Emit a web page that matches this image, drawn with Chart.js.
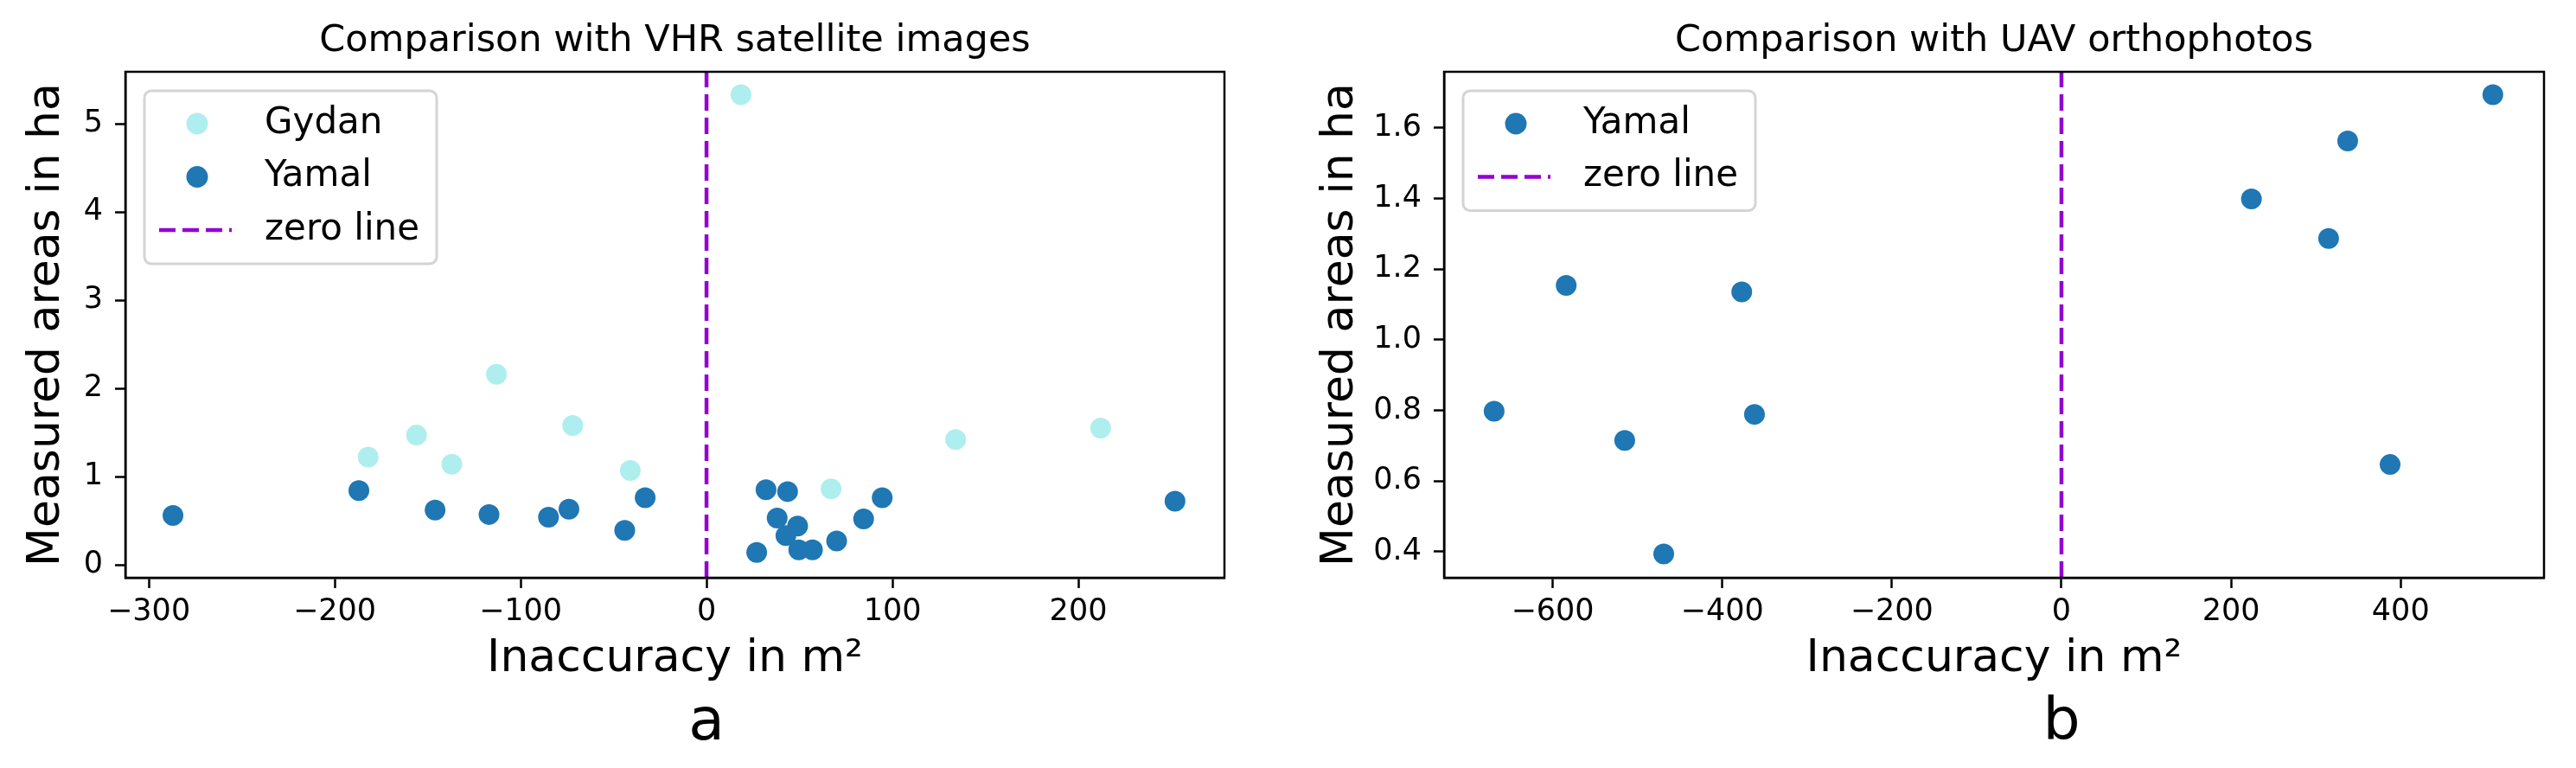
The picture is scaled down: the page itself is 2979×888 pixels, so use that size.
<!DOCTYPE html>
<html>
<head>
<meta charset="utf-8">
<title>Inaccuracy vs measured areas</title>
<script src="https://cdn.jsdelivr.net/npm/chart.js@4.4.0/dist/chart.umd.min.js"></script>
<style>
  body { margin: 0; background: #fff; }
  #wrap { position: relative; width: 2979px; height: 888px; }
  canvas { position: absolute; top: 0; }
</style>
</head>
<body>
<div id="wrap">
  <canvas id="chartA" width="1460" height="888" style="left:0"></canvas>
  <canvas id="chartB" width="1519" height="888" style="left:1460px"></canvas>
</div>
<script>
// panel a - VHR satellite images
const gydanX = [18.5, -113, -156, -182, -137, -72, -41, 67, 134, 212];
const gydanY = [5.33, 2.16, 1.47, 1.22, 1.14, 1.58, 1.07, 0.86, 1.42, 1.55];
const yamalAX = [-287, -187, -146, -117, -85, -74, -44, -33, 27, 32, 43.6, 38, 42.7, 49, 49.6, 57, 70, 84.5, 94.5, 252];
const yamalAY = [0.56, 0.84, 0.62, 0.57, 0.54, 0.63, 0.39, 0.76, 0.14, 0.85, 0.83, 0.53, 0.33, 0.44, 0.17, 0.17, 0.27, 0.52, 0.76, 0.72];
const xTicksA = [-300, -200, -100, 0, 100, 200];
const yTicksA = [0, 1, 2, 3, 4, 5];
const xRangeA = [-312.6, 278.6];
const yRangeA = [-0.147, 5.59];

// panel b - UAV orthophotos
const yamalBX = [-669, -584, -515, -469, -377, -362, 224, 315, 337.5, 387.5, 508.7];
const yamalBY = [0.798, 1.154, 0.715, 0.394, 1.136, 0.789, 1.399, 1.287, 1.563, 0.647, 1.694];
const xTicksB = [-600, -400, -200, 0, 200, 400];
const yTicksB = [0.4, 0.6, 0.8, 1.0, 1.2, 1.4, 1.6];
const xRangeB = [-728, 569];
const yRangeB = [0.3265, 1.759];

const FONT = "'DejaVu Sans', sans-serif";
const GYDAN = "#afeeee";
const YAMAL = "#1f77b4";
const ZERO = "#9400d3";

const toPoints = (xs, ys) => xs.map((x, i) => ({ x: x, y: ys[i] }));
const minus = (s) => String(s).replace("-", "\u2212");

// frame + legend inside plot + panel letter
const extras = {
  id: "extras",
  afterDraw(chart, args, opts) {
    const ctx = chart.ctx;
    const area = chart.chartArea;
    ctx.save();
    ctx.strokeStyle = "#000";
    ctx.lineWidth = 2.5;
    ctx.strokeRect(area.left, area.top, area.right - area.left, area.bottom - area.top);

    // legend
    const items = chart.data.datasets;
    const lx = area.left + 22;
    const ly = area.top + 22;
    const w = 338;
    const h = items.length * 61.5 + 15.5;
    ctx.beginPath();
    ctx.roundRect(lx, ly, w, h, 8);
    ctx.fillStyle = "rgba(255,255,255,0.8)";
    ctx.fill();
    ctx.strokeStyle = "#d4d4d4";
    ctx.lineWidth = 3;
    ctx.stroke();
    items.forEach((ds, i) => {
      const cy = ly + 38 + i * 61.5;
      if (ds.showLine) {
        ctx.beginPath();
        ctx.setLineDash([19, 8]);
        ctx.strokeStyle = ds.borderColor;
        ctx.lineWidth = ds.borderWidth;
        ctx.moveTo(lx + 17, cy);
        ctx.lineTo(lx + 101, cy);
        ctx.stroke();
        ctx.setLineDash([]);
      } else {
        ctx.beginPath();
        ctx.arc(lx + 61, cy, 12.5, 0, Math.PI * 2);
        ctx.fillStyle = ds.backgroundColor;
        ctx.fill();
      }
      ctx.fillStyle = "#000";
      ctx.font = "42px " + FONT;
      ctx.textAlign = "left";
      ctx.textBaseline = "middle";
      ctx.fillText(ds.label, lx + 139, cy);
    });

    // panel letter under the zero of the x axis
    ctx.font = "68px " + FONT;
    ctx.textAlign = "center";
    ctx.textBaseline = "alphabetic";
    ctx.fillText(opts.letter, chart.scales.x.getPixelForValue(0), 855);
    ctx.restore();
  }
};

function makePanel(canvasId, cfg) {
  const datasets = cfg.series.map((s, i) => ({
    label: s.label,
    data: toPoints(s.xs, s.ys),
    backgroundColor: s.color,
    borderWidth: 0,
    pointRadius: 12,
    pointHoverRadius: 12,
    order: cfg.series.length - i
  }));
  datasets.push({
    label: "zero line",
    data: [{ x: 0, y: cfg.yRange[0] }, { x: 0, y: cfg.yRange[1] }],
    showLine: true,
    borderColor: ZERO,
    borderWidth: 4.5,
    borderDash: [19, 8],
    pointRadius: 0,
    order: 0
  });

  return new Chart(document.getElementById(canvasId), {
    type: "scatter",
    data: { datasets: datasets },
    plugins: [extras],
    options: {
      responsive: false,
      animation: false,
      devicePixelRatio: 1,
      layout: { padding: { left: 0, right: cfg.padRight, top: 0, bottom: 0 } },
      plugins: {
        legend: { display: false },
        tooltip: { enabled: false },
        title: {
          display: true,
          text: cfg.title,
          fullSize: false,
          color: "#000",
          font: { family: FONT, size: 43, weight: "normal", lineHeight: 1 },
          padding: { top: 26, bottom: 14 }
        },
        extras: { letter: cfg.letter }
      },
      scales: {
        x: {
          type: "linear",
          min: cfg.xRange[0],
          max: cfg.xRange[1],
          afterFit: (s) => { s.height = 220; },
          afterBuildTicks: (s) => { s.ticks = cfg.xTicks.map((v) => ({ value: v })); },
          grid: { drawOnChartArea: false, drawTicks: true, tickLength: 12, tickWidth: 2.5, tickColor: "#000" },
          border: { display: true, color: "#000", width: 2.5 },
          ticks: {
            color: "#000",
            font: { family: FONT, size: 35 },
            padding: 7,
            maxRotation: 0,
            autoSkip: false,
            callback: (v) => minus(v)
          },
          title: {
            display: true,
            text: "Inaccuracy in m\u00b2",
            color: "#000",
            font: { family: FONT, size: 52, lineHeight: 1.2 },
            padding: { top: 0, bottom: 94 }
          }
        },
        y: {
          type: "linear",
          min: cfg.yRange[0],
          max: cfg.yRange[1],
          afterFit: (s) => { s.width = cfg.yWidth; },
          afterBuildTicks: (s) => { s.ticks = cfg.yTicks.map((v) => ({ value: v })); },
          grid: { drawOnChartArea: false, drawTicks: true, tickLength: 12, tickWidth: 2.5, tickColor: "#000" },
          border: { display: true, color: "#000", width: 2.5 },
          ticks: {
            color: "#000",
            font: { family: FONT, size: 35 },
            padding: 14,
            autoSkip: false,
            callback: cfg.yFormat
          },
          title: {
            display: true,
            text: "Measured areas in ha",
            color: "#000",
            font: { family: FONT, size: 52, lineHeight: 1.2 },
            padding: { top: cfg.yTitlePad, bottom: 0 }
          }
        }
      }
    }
  });
}

makePanel("chartA", {
  title: "Comparison with VHR satellite images",
  letter: "a",
  series: [
    { label: "Gydan", xs: gydanX, ys: gydanY, color: GYDAN },
    { label: "Yamal", xs: yamalAX, ys: yamalAY, color: YAMAL }
  ],
  xTicks: xTicksA,
  yTicks: yTicksA,
  xRange: xRangeA,
  yRange: yRangeA,
  yFormat: (v) => String(v),
  yWidth: 145,
  yTitlePad: 23,
  padRight: 44
});

makePanel("chartB", {
  title: "Comparison with UAV orthophotos",
  letter: "b",
  series: [
    { label: "Yamal", xs: yamalBX, ys: yamalBY, color: YAMAL }
  ],
  xTicks: xTicksB,
  yTicks: yTicksB,
  xRange: xRangeB,
  yRange: yRangeB,
  yFormat: (v) => v.toFixed(1),
  yWidth: 210,
  yTitlePad: 59,
  padRight: 37
});
</script>
</body>
</html>
